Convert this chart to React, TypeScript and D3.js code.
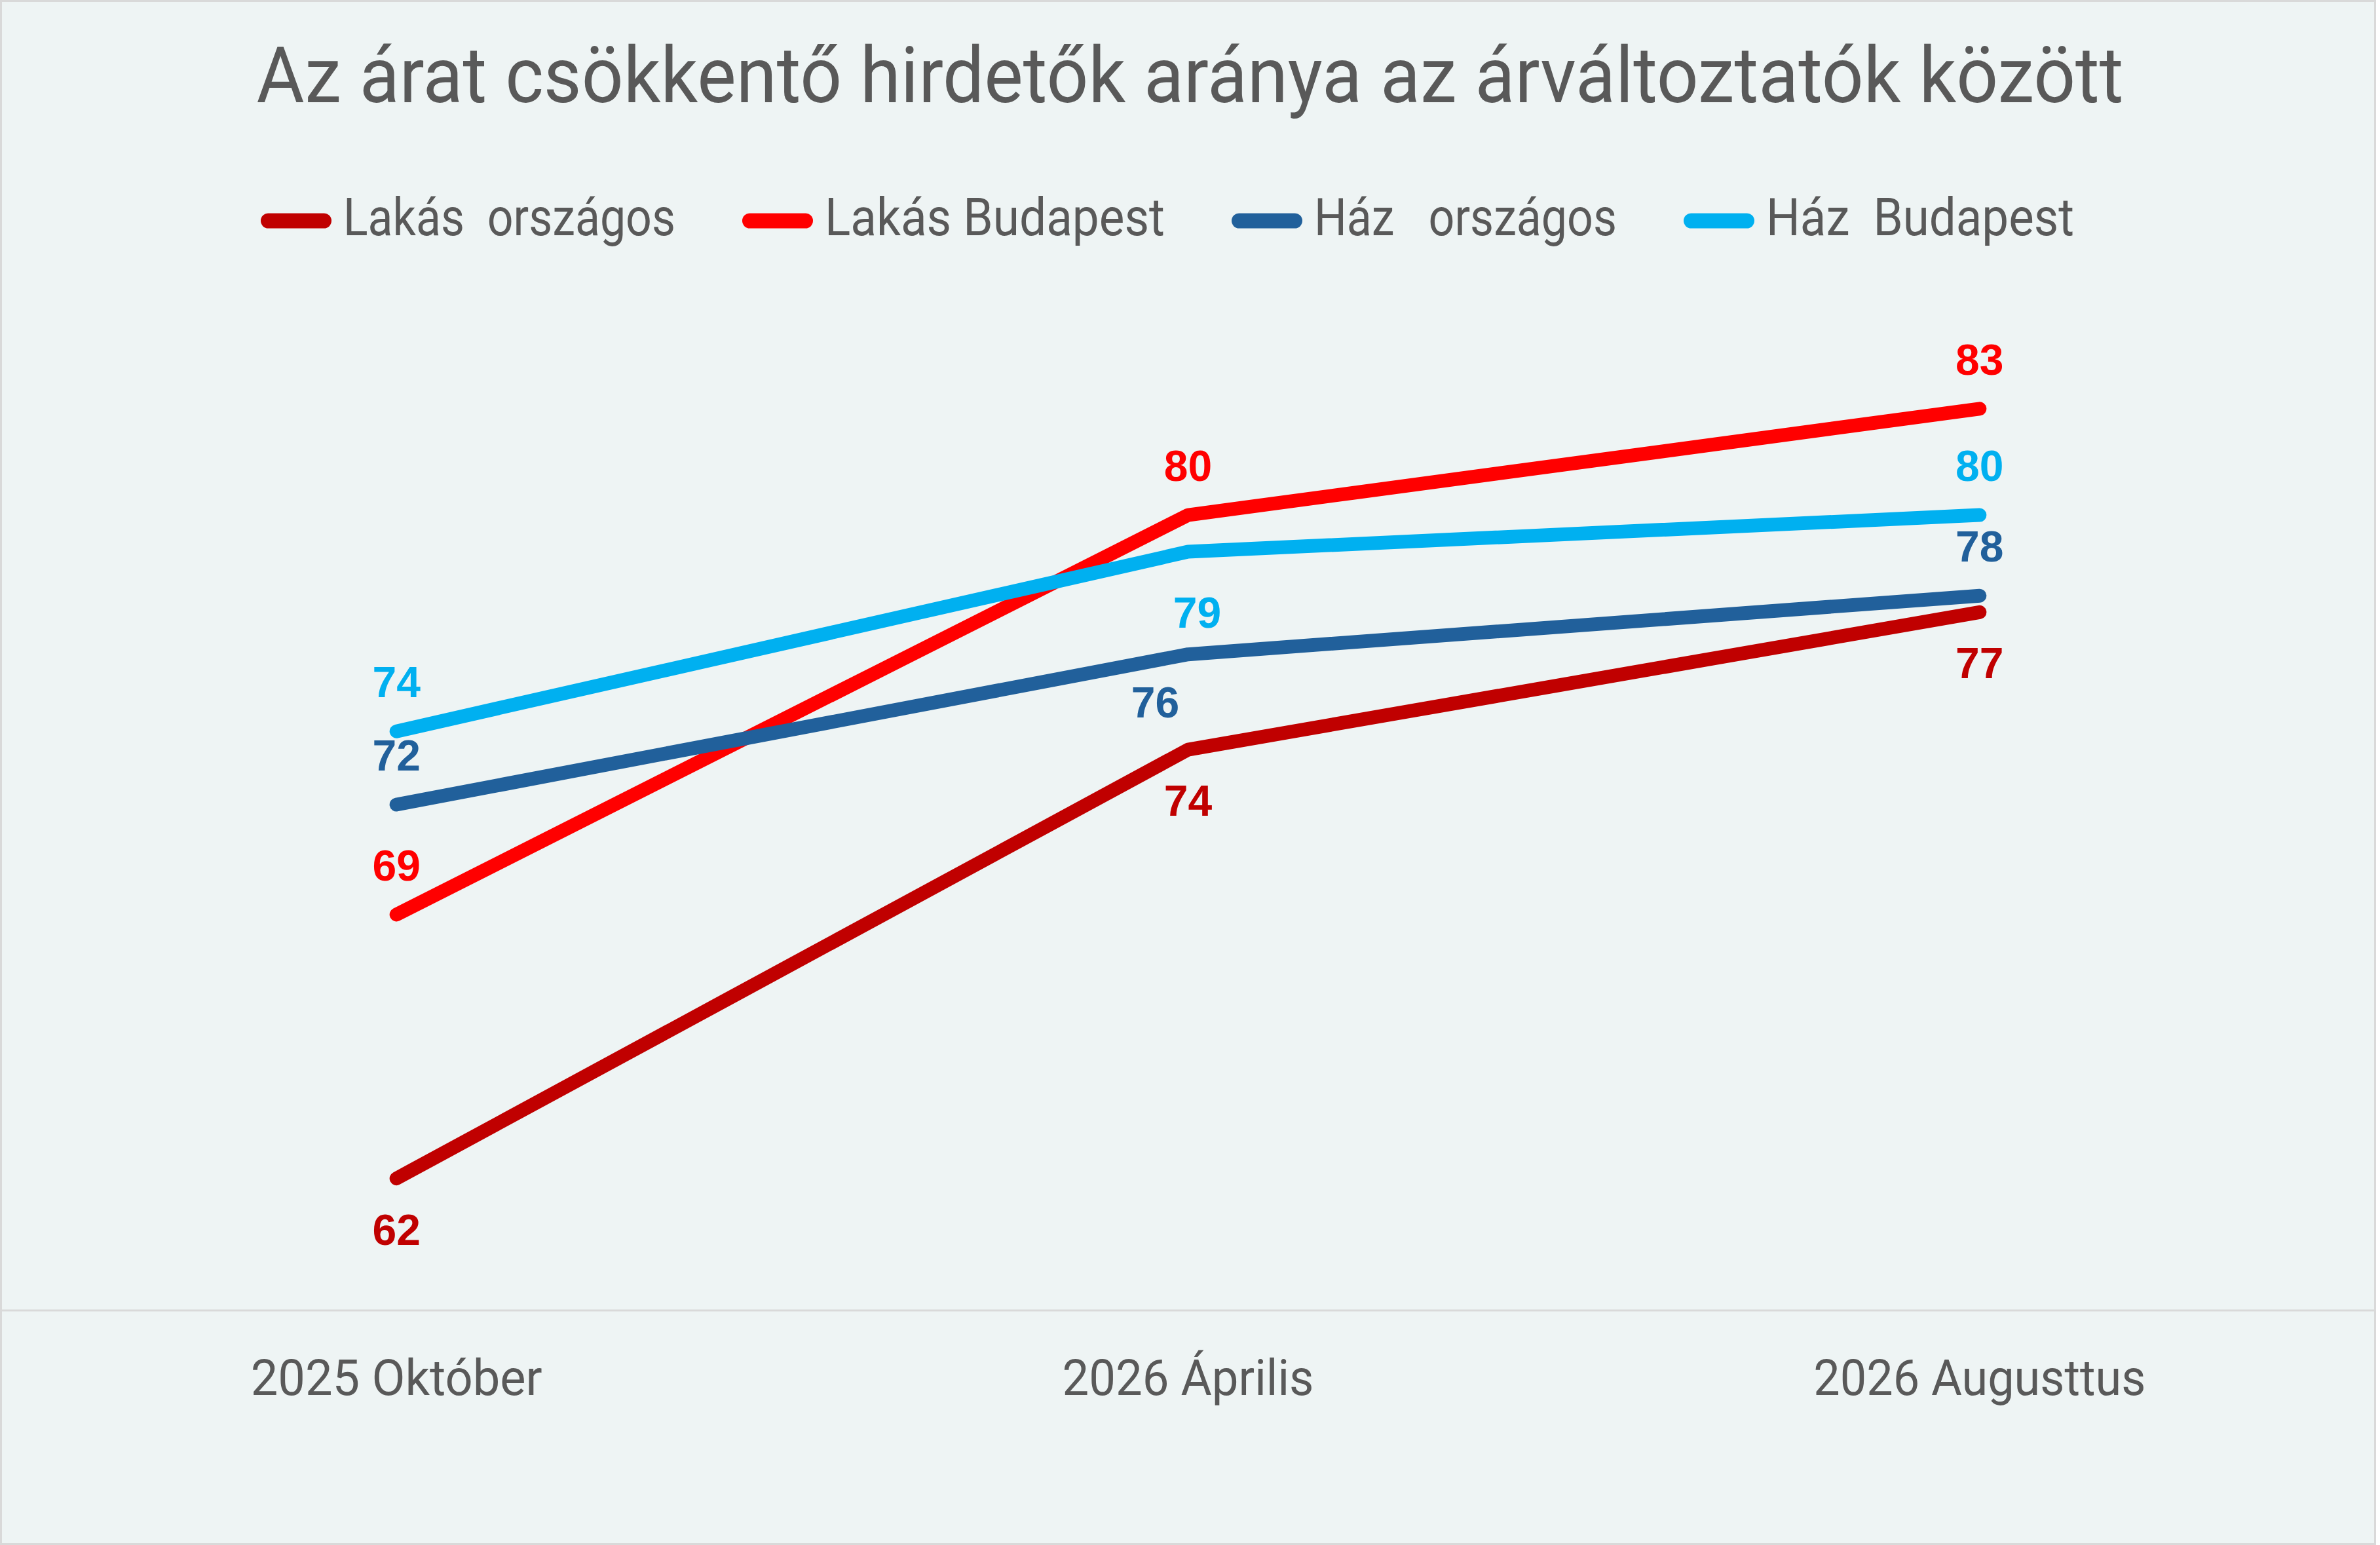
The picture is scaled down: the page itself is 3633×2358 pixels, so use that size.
import React from 'react';
import * as d3 from 'd3';

// chart data
const categories = ['2025 Október', '2026 Április', '2026 Augusttus'];
const seriesNames = ['Lakás  országos', 'Lakás Budapest', 'Ház   országos', 'Ház  Budapest'];
const lakasOrszagos = [62.0, 73.7, 77.45];
const lakasBudapest = [69.2, 80.1, 83.0];
const hazOrszagos = [72.2, 76.3, 77.9];
const hazBudapest = [74.2, 79.1, 80.1];
const seriesValues = [lakasOrszagos, lakasBudapest, hazOrszagos, hazBudapest];
const yDomain = [58.4, 85];

const title = 'Az árat csökkentő hirdetők aránya az árváltoztatók között';

// styling
const W = 3633;
const H = 2358;
const bg = '#EEF4F4';
const gridColor = '#D9D9D9';
const textColor = '#595959';
const colors = ['#C00000', '#FF0000', '#21609B', '#00B0F0'];
const font = 'Roboto, "Noto Sans", sans-serif';
const labelFont = '"Liberation Sans", Arial, sans-serif';

const plot = { left: 1, right: 3626, top: 512, bottom: 2000 };

// data label placement per series / point
type Place = { pos: 'above' | 'below'; dx?: number; dy?: number };
const placements: Place[][] = [
  [{ pos: 'below' }, { pos: 'below' }, { pos: 'below' }],
  [{ pos: 'above' }, { pos: 'above' }, { pos: 'above' }],
  [{ pos: 'above' }, { pos: 'below', dx: -50, dy: -5 }, { pos: 'above' }],
  [{ pos: 'above' }, { pos: 'below', dx: 14, dy: 15 }, { pos: 'above' }],
];

// legend text widths (narrow font look)
const legendTextWidths = [507, 519, 462, 470];
const categoryWidths = [445, 384, 507];

const App: React.FC = () => {
  const x = d3.scaleBand<string>().domain(categories).range([plot.left, plot.right]).padding(0);
  const xc = (c: string) => (x(c) || 0) + x.bandwidth() / 2;
  const y = d3.scaleLinear().domain(yDomain).range([plot.bottom, plot.top]);
  const fmt = d3.format('.0f');

  const line = d3
    .line<number>()
    .x((_, i) => xc(categories[i]))
    .y(d => y(d));

  // legend layout
  const legendY = 359;
  const swatchW = 108;
  const textGap = 18;
  const itemGap = 102;
  let cursor = 398;
  const legendItems = seriesNames.map((name, i) => {
    const sx = cursor;
    const tx = sx + swatchW + textGap;
    cursor = tx + legendTextWidths[i] + itemGap;
    return { name, sx, tx, color: colors[i], tw: legendTextWidths[i] };
  });

  return (
    <svg
      width={W}
      height={H}
      style={{ position: 'absolute', left: 0, top: 0, display: 'block' }}
    >
      <rect x={1.5} y={1.5} width={W - 9} height={H - 3} fill={bg} stroke={gridColor} strokeWidth={3} />

      <text
        x={W / 2}
        y={156}
        textAnchor="middle"
        fontFamily={font}
        fontSize={118}
        fill={textColor}
        textLength={2850}
        lengthAdjust="spacingAndGlyphs"
      >
        {title}
      </text>

      {/* legend */}
      <g>
        {legendItems.map(it => (
          <g key={it.name}>
            <line
              x1={it.sx + 11.5}
              x2={it.sx + swatchW - 11.5}
              y1={legendY - 22}
              y2={legendY - 22}
              stroke={it.color}
              strokeWidth={23}
              strokeLinecap="round"
            />
            <text
              x={it.tx}
              y={legendY}
              fontFamily={font}
              fontSize={79}
              fill={textColor}
              textLength={it.tw}
              lengthAdjust="spacingAndGlyphs"
              style={{ whiteSpace: 'pre' }}
            >
              {it.name}
            </text>
          </g>
        ))}
      </g>

      {/* category axis line */}
      <line x1={0} x2={plot.right} y1={plot.bottom} y2={plot.bottom} stroke={gridColor} strokeWidth={3} />

      {categories.map((c, i) => (
        <text
          key={c}
          x={xc(c)}
          y={2129}
          textAnchor="middle"
          fontFamily={font}
          fontSize={76}
          fill={textColor}
          textLength={categoryWidths[i]}
          lengthAdjust="spacingAndGlyphs"
        >
          {c}
        </text>
      ))}

      {/* series lines */}
      {seriesValues.map((vals, s) => (
        <path
          key={seriesNames[s]}
          d={line(vals) || ''}
          fill="none"
          stroke={colors[s]}
          strokeWidth={21}
          strokeLinecap="round"
          strokeLinejoin="round"
        />
      ))}

      {/* data labels */}
      {seriesValues.map((vals, s) =>
        vals.map((v, i) => {
          const p = placements[s][i];
          const px = xc(categories[i]) + (p.dx || 0);
          const py = y(v) + (p.pos === 'above' ? -52 : 101) + (p.dy || 0);
          return (
            <text
              key={`${s}-${i}`}
              x={px}
              y={py}
              textAnchor="middle"
              fontFamily={labelFont}
              fontWeight="bold"
              fontSize={66}
              fill={colors[s]}
            >
              {fmt(v)}
            </text>
          );
        })
      )}
    </svg>
  );
};

export default App;
